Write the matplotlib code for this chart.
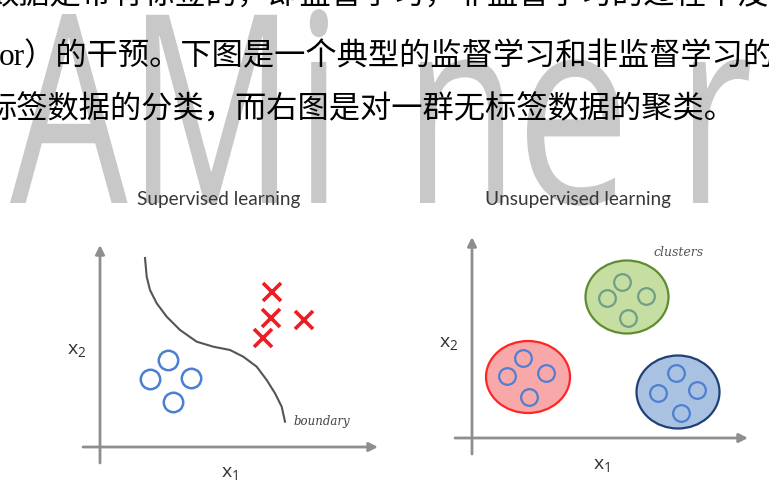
import matplotlib
matplotlib.use('Agg')
import matplotlib.pyplot as plt
from matplotlib.textpath import TextPath
from matplotlib.patches import PathPatch, Ellipse
from matplotlib.font_manager import FontProperties
from matplotlib.transforms import Affine2D

# texto do artigo (linhas cortadas pela captura)
linhas = ['数据是带有标签的，即监督学习，非监督学习的过程中没有',
          'or）的干预。下图是一个典型的监督学习和非监督学习的',
          '标签数据的分类，而右图是对一群无标签数据的聚类。']

# diagrama da esquerda (x1, x2)
cruz_x = [17.2, 17.1, 20.4, 16.3]
cruz_y = [15.5, 12.9, 12.7, 10.9]
circ_x = [6.8, 5.0, 9.1, 7.3]
circ_y = [8.7, 6.8, 6.9, 4.5]
fronteira_x = [4.5, 4.67, 5.0, 5.67, 6.67, 8.0, 9.67, 11.33, 13.0, 14.33, 15.67, 16.67, 17.5, 18.17, 18.5]
fronteira_y = [18.9, 17.03, 15.7, 14.37, 13.03, 11.7, 10.53, 10.03, 9.7, 9.03, 8.03, 6.7, 5.37, 4.03, 2.53]

# diagrama da direita: clusters
grupos = ['vermelho', 'verde', 'azul']
centro_x = [5.6, 15.5, 20.6]
centro_y = [6.1, 14.1, 4.6]
largura = [8.4, 8.3, 8.3]
altura = [7.2, 7.3, 7.3]
pontos_x = [[5.1, 3.5, 7.4, 5.7], [15.0, 13.5, 17.4, 15.6], [20.4, 18.6, 22.5, 20.9]]
pontos_y = [[8.0, 6.2, 6.5, 4.1], [15.6, 14.0, 14.2, 12.0], [6.5, 4.5, 4.8, 2.5]]
preench = ['#f8a8a8', '#c6dea2', '#a9c2e2']
borda = ['#ff2626', '#5f8c30', '#213f78']
cor_pts = ['#4f7fd2', '#6f9f86', '#4f7fd2']

W, H = 769, 483
fig = plt.figure(figsize=(W / 100, H / 100), dpi=100)
fundo = fig.add_axes([0, 0, 1, 1])
fundo.set_xlim(0, W)
fundo.set_ylim(H, 0)
fundo.axis('off')

# marca d'agua AMiner
fp = FontProperties(family='Open Sans')
cap = TextPath((0, 0), 'A', size=100, prop=fp).get_extents()
bb = TextPath((0, 0), 'AMi', size=100, prop=fp).get_extents()
sx = (328 - 10) / bb.width
sy = 189 / cap.height
for pedaco, x0, extra in [('AMi', 10, 1.0), ('n', 420, 1.0), ('e', 527, 1.1), ('r', 693, 1.0)]:
    tp = TextPath((0, 0), pedaco, size=100, prop=fp)
    b = tp.get_extents()
    t = Affine2D().translate(-b.x0, 0).scale(sx * extra, -sy).translate(x0, 203)
    fundo.add_patch(PathPatch(t.transform_path(tp), facecolor='#c8c8c8', lw=0, zorder=0))

familia = ['Liberation Serif', 'Noto Sans CJK SC']
fundo.text(-12, -3, linhas[0], fontsize=22.5, family=familia, va='center', zorder=2)
fundo.text(-1, 57, linhas[1], fontsize=22.5, family=familia, va='center', zorder=2)
fundo.text(-15, 111, linhas[2], fontsize=22.5, family=familia, va='center', zorder=2)

fundo.text(219, 200, 'Supervised learning', fontsize=13.7, family='Lato', color='#383838',
           ha='center', va='center', zorder=2)
fundo.text(578, 200, 'Unsupervised learning', fontsize=13.7, family='Lato', color='#383838',
           ha='center', va='center', zorder=2)

cinza = '#8e8e8e'


def eixos(ax, xmax, ymax):
    ax.annotate('', xy=(xmax, 0), xytext=(-1.7, 0),
                arrowprops=dict(arrowstyle='-|>', color=cinza, lw=2, mutation_scale=13, shrinkA=0, shrinkB=0))
    ax.annotate('', xy=(0, ymax), xytext=(0, -1.6),
                arrowprops=dict(arrowstyle='-|>', color=cinza, lw=2, mutation_scale=13, shrinkA=0, shrinkB=0))
    ax.set_xlim(-2, 28.5)
    ax.set_ylim(-2, 21)
    ax.axis('off')


# esquerda: origem em (100, 447) px, 10 px por unidade
ax1 = fig.add_axes([80 / W, (H - 467) / H, 305 / W, 230 / H])
ax1.patch.set_alpha(0)
eixos(ax1, 27.8, 20.2)
ax1.plot(fronteira_x, fronteira_y, color='#555555', lw=1.5)
ax1.plot(cruz_x, cruz_y, 'x', color='#f01c24', ms=13, mew=2.6)
ax1.plot(circ_x, circ_y, 'o', mfc='none', mec='#4a7fd4', ms=14, mew=1.8)
ax1.text(-2.3, 9.7, r'$\mathregular{x_2}$', fontsize=14, family='Open Sans', color='#333333', ha='center', va='center')
ax1.text(13.0, -2.6, r'$\mathregular{x_1}$', fontsize=14, family='Open Sans', color='#333333', ha='center', va='center')
ax1.text(19.3, 2.6, 'boundary', fontsize=8.5, family='DejaVu Serif', style='italic', color='#444444', va='center')

# direita: origem em (472, 438) px
ax2 = fig.add_axes([452 / W, (H - 458) / H, 305 / W, 230 / H])
ax2.patch.set_alpha(0)
eixos(ax2, 27.6, 20.1)
for i in range(len(grupos)):
    ax2.add_patch(Ellipse((centro_x[i], centro_y[i]), largura[i], altura[i],
                          facecolor=preench[i], edgecolor=borda[i], lw=1.6))
    ax2.plot(pontos_x[i], pontos_y[i], 'o', mfc='none', mec=cor_pts[i], ms=12, mew=1.6)
ax2.text(-2.3, 9.5, r'$\mathregular{x_2}$', fontsize=14, family='Open Sans', color='#333333', ha='center', va='center')
ax2.text(13.0, -2.7, r'$\mathregular{x_1}$', fontsize=14, family='Open Sans', color='#333333', ha='center', va='center')
ax2.text(18.1, 18.5, 'clusters', fontsize=9, family='DejaVu Serif', style='italic', color='#555555', va='center')

fig.savefig('out.png', dpi=100)
